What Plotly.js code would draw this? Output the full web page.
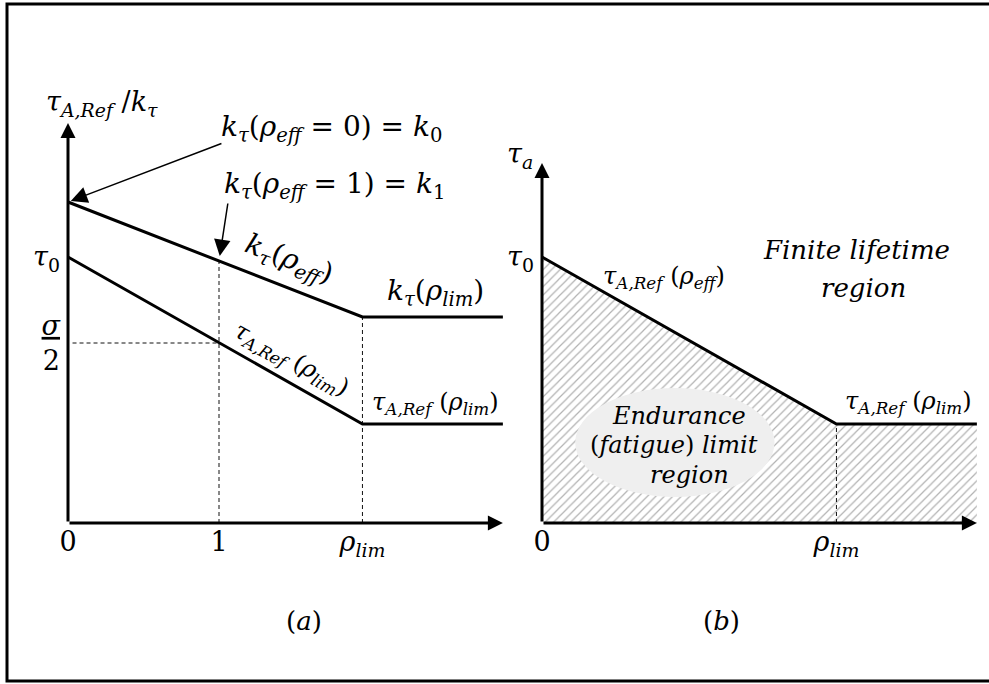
<!DOCTYPE html>
<html><head><meta charset="utf-8">
<script src="https://cdn.plot.ly/plotly-3.0.1.min.js"></script>
<style>html,body{margin:0;padding:0;background:#fff}#chart{width:989px;height:684px}</style>
</head><body><div id="chart"></div>
<script>
// ---------------- data (schematic units) ----------------
// panel (a): k_tau and tau_A,Ref versus rho_eff
const rhoA   = [0, 1, 1.95, 2.88];          // 0, 1, rho_lim, end of axis
const kTau   = [3.21, 2.62, 2.06, 2.06];    // k_tau(rho_eff)
const tauRef = [2.66, 1.80, 0.99, 0.99];    // tau_A,Ref(rho_eff)
// panel (b): tau_a versus rho_eff
const rhoB   = [0, 1.95, 2.88];
const tauB   = [2.66, 0.99, 0.99];
const rhoLim = 1.95, rhoOne = 1, xEnd = 2.88;
const yTopA = 4.0, yTopB = 3.6;
const tau0 = 2.66, sigmaHalf = 1.80, k0 = 3.21, k1 = 2.62, kLim = 2.06, tauLim = 0.99;
const xTickValsA = [0, 1, 1.95];
const xTickTextA = ['0', '1', '<i>ρ</i><sub><i>lim</i></sub>'];
const yTickValsA = [2.66, 1.80];
const yTickTextA = ['<i>τ</i><sub>0</sub>', '<u><i>σ</i></u><br>2'];
const xTickValsB = [0, 1.95];
const xTickTextB = ['0', '<i>ρ</i><sub><i>lim</i></sub>'];
const yTickValsB = [2.66];
const yTickTextB = ['<i>τ</i><sub>0</sub>'];

// ---------------- geometry ----------------
const W = 989, H = 684;
const FONT = 'DejaVu Serif';
const pxX = 151, pxY = 100;           // pixels per unit
const oxA = 68, oxB = 542, oy = 523;  // pixel origins
const domA = [0, 0.53], domB = [0.47, 1];
const xRange = (ox, d) => [(d[0] * W - ox) / pxX, (d[1] * W - ox) / pxX];
const yRange = [-(H - oy) / pxY, oy / pxY];

const solid = (x, y, xa, ya) => ({x, y, xaxis: xa, yaxis: ya, type: 'scatter', mode: 'lines',
  line: {color: '#000', width: 3}, hoverinfo: 'skip', showlegend: false});
const dashed = (x, y, xa, ya) => ({x, y, xaxis: xa, yaxis: ya, type: 'scatter', mode: 'lines',
  line: {color: '#111', width: 1, dash: '4px,3px'}, hoverinfo: 'skip', showlegend: false});

const traces = [
  // hatched endurance region (b)
  {x: rhoB.concat([xEnd, 0]), y: tauB.concat([0, 0]), xaxis: 'x2', yaxis: 'y2', type: 'scatter',
   mode: 'lines', fill: 'toself', line: {width: 0, color: 'rgba(0,0,0,0)'},
   fillcolor: 'rgba(0,0,0,0)',
   fillpattern: {shape: '/', fgcolor: '#b2b2b2', bgcolor: '#ffffff', size: 6, solidity: 0.2},
   hoverinfo: 'skip', showlegend: false},
  dashed([rhoOne, rhoOne], [0, k1], 'x', 'y'),
  dashed([rhoLim, rhoLim], [0, kLim], 'x', 'y'),
  dashed([0.03, rhoOne], [sigmaHalf, sigmaHalf], 'x', 'y'),
  dashed([rhoLim, rhoLim], [0, tauLim], 'x2', 'y2'),
  solid(rhoA, kTau, 'x', 'y'),
  solid(rhoA, tauRef, 'x', 'y'),
  solid(rhoB, tauB, 'x2', 'y2')
];

const axArrow = (xr, yr, x, y, ax, ay) => ({xref: xr, yref: yr, axref: xr, ayref: yr, x, y, ax, ay,
  text: '', showarrow: true, arrowhead: 2, arrowwidth: 3, arrowsize: 1, arrowcolor: '#000', standoff: 0});
const ptr = (x, y, ax, ay, so) => ({xref: 'x', yref: 'y', axref: 'x', ayref: 'y', x, y, ax, ay,
  text: '', showarrow: true, arrowhead: 2, arrowwidth: 1.5, arrowsize: 2.2, arrowcolor: '#000', standoff: so});
const lbl = (xr, yr, x, y, text, size, opt) => Object.assign({xref: xr, yref: yr, x, y, text,
  showarrow: false, font: {family: FONT, size, color: '#000'}, xanchor: 'center', yanchor: 'middle'}, opt || {});

const annotations = [
  axArrow('x', 'y', 0, yTopA, 0, 0),
  axArrow('x', 'y', xEnd, 0, 0, 0),
  axArrow('x2', 'y2', 0, yTopB, 0, 0),
  axArrow('x2', 'y2', xEnd, 0, 0, 0),
  ptr(0, k0, 1.026, 3.80, 3),
  ptr(rhoOne, k1, 1.06, 3.21, 5),
  // panel (a) texts
  lbl('x', 'y', 0.225, 4.20, '<i>τ</i><sub><i>A,Ref</i></sub> /<i>k</i><sub><i>τ</i></sub>', 27),
  lbl('x', 'y', 1.00, 3.95, '<i>k</i><sub><i>τ</i></sub>(<i>ρ</i><sub><i>eff</i></sub> = 0) = <i>k</i><sub>0</sub>', 28, {xanchor: 'left'}),
  lbl('x', 'y', 1.02, 3.38, '<i>k</i><sub><i>τ</i></sub>(<i>ρ</i><sub><i>eff</i></sub> = 1) = <i>k</i><sub>1</sub>', 28, {xanchor: 'left'}),
  lbl('x', 'y', 1.465, 2.63, '<i>k</i><sub><i>τ</i></sub>(<i>ρ</i><sub><i>eff</i></sub>)', 28, {textangle: 21}),
  lbl('x', 'y', 2.437, 2.31, '<i>k</i><sub><i>τ</i></sub>(<i>ρ</i><sub><i>lim</i></sub>)', 28),
  lbl('x', 'y', 1.483, 1.63, '<i>τ</i><sub><i>A,Ref</i></sub> (<i>ρ</i><sub><i>lim</i></sub>)', 24, {textangle: 29}),
  lbl('x', 'y', 2.437, 1.20, '<i>τ</i><sub><i>A,Ref</i></sub> (<i>ρ</i><sub><i>lim</i></sub>)', 24),
  lbl('x', 'y', 1.56, -0.98, '(<i>a</i>)', 26),
  // panel (b) texts
  lbl('x2', 'y2', -0.146, 3.68, '<i>τ</i><sub><i>a</i></sub>', 27),
  lbl('x2', 'y2', 0.808, 2.46, '<i>τ</i><sub><i>A,Ref</i></sub> (<i>ρ</i><sub><i>eff</i></sub>)', 24),
  lbl('x2', 'y2', 2.086, 2.73, '<i>Finite lifetime</i>', 26),
  lbl('x2', 'y2', 2.126, 2.35, '<i>region</i>', 26),
  lbl('x2', 'y2', 2.424, 1.21, '<i>τ</i><sub><i>A,Ref</i></sub> (<i>ρ</i><sub><i>lim</i></sub>)', 24),
  lbl('x2', 'y2', 0.907, 1.075, '<i>Endurance</i>', 24),
  lbl('x2', 'y2', 0.874, 0.78, '(<i>fatigue</i>) <i>limit</i>', 24),
  lbl('x2', 'y2', 0.98, 0.485, '<i>region</i>', 24),
  lbl('x2', 'y2', 1.19, -0.98, '(<i>b</i>)', 26)
];

const shapes = [
  {type: 'circle', xref: 'x2', yref: 'y2', x0: 0.22, x1: 1.54, y0: 0.26, y1: 1.35,
   fillcolor: '#efefef', line: {width: 0}, layer: 'above'},
  {type: 'rect', xref: 'paper', yref: 'paper', x0: 7 / W, x1: 1.02, y0: 1 - 681 / H, y1: 1 - 4 / H,
   line: {color: '#000', width: 3}, fillcolor: 'rgba(0,0,0,0)', layer: 'below'}
];

const axBase = {showgrid: false, zeroline: false, showline: false, ticks: '', fixedrange: true,
  tickfont: {family: FONT, size: 27, color: '#000'}};

const layout = {
  width: W, height: H, margin: {l: 0, r: 0, t: 0, b: 0},
  paper_bgcolor: '#fff', plot_bgcolor: 'rgba(0,0,0,0)', showlegend: false,
  xaxis: Object.assign({}, axBase, {domain: domA, range: xRange(oxA, domA), anchor: 'free',
    position: 1 - oy / H, tickmode: 'array', tickvals: xTickValsA, ticktext: xTickTextA, ticklabelstandoff: 0}),
  yaxis: Object.assign({}, axBase, {domain: [0, 1], range: yRange, anchor: 'free', position: oxA / W,
    tickmode: 'array', tickvals: yTickValsA, ticktext: yTickTextA, ticklabelstandoff: 8}),
  xaxis2: Object.assign({}, axBase, {domain: domB, range: xRange(oxB, domB), anchor: 'free',
    position: 1 - oy / H, tickmode: 'array', tickvals: xTickValsB, ticktext: xTickTextB, ticklabelstandoff: 0}),
  yaxis2: Object.assign({}, axBase, {domain: [0, 1], range: yRange, anchor: 'free', position: oxB / W,
    tickmode: 'array', tickvals: yTickValsB, ticktext: yTickTextB, ticklabelstandoff: 8}),
  annotations, shapes
};

Plotly.newPlot('chart', traces, layout, {staticPlot: true, displayModeBar: false});
</script></body></html>
